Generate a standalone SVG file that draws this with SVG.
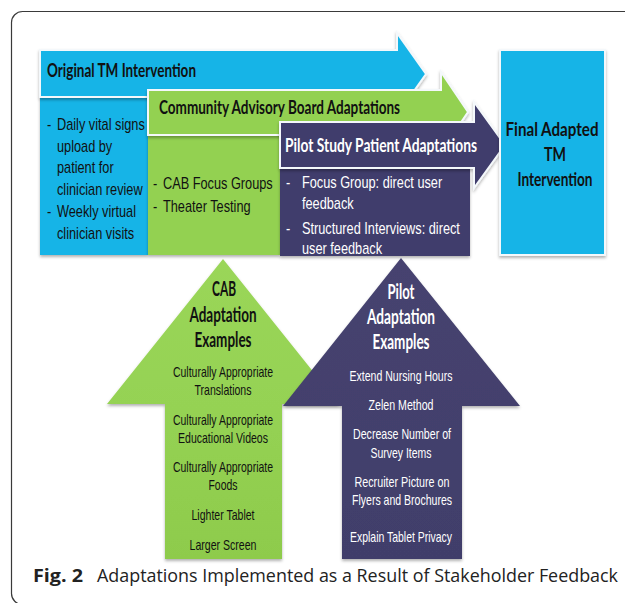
<svg xmlns="http://www.w3.org/2000/svg" width="625" height="603" viewBox="0 0 625 603">
  <defs>
    <style>
      .frame { fill: none; stroke: #3a3a3a; stroke-width: 1.2; }
      .blue { fill: #19b4e7; }
      .green { fill: #93d151; }
      .purple { fill: #403d6c; }
      .band { stroke: #f4f8fb; stroke-width: 2; stroke-linejoin: miter; }
      .hdr { font-family: Lato, "Open Sans", "Liberation Sans", sans-serif; font-weight: 700; font-size: 18.5px; }
      .ttl { font-family: Lato, "Open Sans", "Liberation Sans", sans-serif; font-weight: 700; font-size: 20px; text-anchor: middle; }
      .txt { font-family: "Liberation Sans", Arial, sans-serif; font-size: 17px; }
      .item { font-family: "Liberation Sans", Arial, sans-serif; font-size: 15px; text-anchor: middle; }
      .dark { fill: #111111; }
      .light { fill: #ffffff; }
      .cap { font-family: "Open Sans", "Noto Sans", "Liberation Sans", sans-serif; font-size: 18px; fill: #222222; }
    </style>
    <filter id="shade" x="-10%" y="-10%" width="120%" height="125%">
      <feDropShadow dx="0" dy="2" stdDeviation="1.6" flood-color="#000000" flood-opacity="0.3"/>
    </filter>
    <linearGradient id="greenUp" x1="0" y1="0" x2="0" y2="1">
      <stop offset="0" stop-color="#9ad659"/>
      <stop offset="0.5" stop-color="#95d253"/>
      <stop offset="1" stop-color="#8ecb4c"/>
    </linearGradient>
    <linearGradient id="purpleUp" x1="0" y1="0" x2="0" y2="1">
      <stop offset="0" stop-color="#46436f"/>
      <stop offset="1" stop-color="#413e6b"/>
    </linearGradient>
  </defs>

  <!-- outer frame, open on the right -->
  <rect class="frame" x="11.5" y="11.5" width="700" height="593" rx="11"/>

  <!-- original intervention -->
  <g id="original-tm">
    <rect class="blue" x="40" y="97" width="108" height="158" filter="url(#shade)"/>
    <polygon class="blue band" points="40,50 397,50 397,33 426,74 397,115 397,97 40,97" filter="url(#shade)"/>
    <text class="hdr dark" x="47" y="77" textLength="149" lengthAdjust="spacingAndGlyphs">Original TM Intervention</text>
    <!-- narrow body copy: plain text squeezed horizontally -->
    <g class="txt dark" transform="translate(47,0) scale(0.75,1)">
      <text x="0" y="130">-</text>
      <text x="13.3" y="130">Daily vital signs</text>
      <text x="13.3" y="152">upload by</text>
      <text x="13.3" y="173">patient for</text>
      <text x="13.3" y="195">clinician review</text>
      <text x="0" y="217">-</text>
      <text x="13.3" y="217">Weekly virtual</text>
      <text x="13.3" y="239">clinician visits</text>
    </g>
  </g>

  <!-- community advisory board -->
  <g id="cab-adaptations">
    <rect class="green" x="148" y="135" width="132" height="120" filter="url(#shade)"/>
    <polygon class="green band" points="148,90 441,90 441,72 468,112 441,152 441,135 148,135" filter="url(#shade)"/>
    <text class="hdr dark" x="159" y="114" textLength="241" lengthAdjust="spacingAndGlyphs">Community Advisory Board Adaptations</text>
    <g class="txt dark" transform="translate(153,0) scale(0.75,1)">
      <text x="0" y="189">-</text>
      <text x="13.3" y="189">CAB Focus Groups</text>
      <text x="0" y="212">-</text>
      <text x="13.3" y="212">Theater Testing</text>
    </g>
  </g>

  <!-- pilot study -->
  <g id="pilot-adaptations">
    <rect class="purple" x="280" y="168" width="190" height="88" filter="url(#shade)"/>
    <polygon class="purple band" points="280,122 474,122 474,102 505,145 474,188 474,168 280,168" filter="url(#shade)"/>
    <text class="hdr light" x="285" y="152" textLength="192" lengthAdjust="spacingAndGlyphs">Pilot  Study Patient Adaptations</text>
    <g class="txt light" transform="translate(286,0) scale(0.75,1)">
      <text x="0" y="188">-</text>
      <text x="21.3" y="188">Focus Group: direct user</text>
      <text x="21.3" y="209">feedback</text>
      <text x="0" y="234">-</text>
      <text x="21.3" y="234">Structured Interviews: direct</text>
      <text x="21.3" y="254">user feedback</text>
    </g>
  </g>

  <!-- final intervention -->
  <g id="final-tm">
    <rect class="blue band" x="500" y="50" width="105" height="205" filter="url(#shade)"/>
    <g class="ttl dark" style="font-size:18px">
      <text x="552" y="136" textLength="93" lengthAdjust="spacingAndGlyphs">Final Adapted</text>
      <text x="555" y="161" textLength="22" lengthAdjust="spacingAndGlyphs">TM</text>
      <text x="555" y="186" textLength="75" lengthAdjust="spacingAndGlyphs">Intervention</text>
    </g>
  </g>

  <!-- CAB examples -->
  <g id="cab-examples">
    <polygon fill="url(#greenUp)" points="223,259 339,404 282,404 282,559 165,559 165,404 107,404" filter="url(#shade)"/>
    <g class="ttl dark">
      <text x="224" y="296" textLength="24" lengthAdjust="spacingAndGlyphs">CAB</text>
      <text x="223" y="322" textLength="67" lengthAdjust="spacingAndGlyphs">Adaptation</text>
      <text x="223" y="347" textLength="57" lengthAdjust="spacingAndGlyphs">Examples</text>
    </g>
    <g class="item dark">
      <text x="223" y="377" textLength="100" lengthAdjust="spacingAndGlyphs">Culturally Appropriate</text>
      <text x="223" y="395" textLength="57" lengthAdjust="spacingAndGlyphs">Translations</text>
      <text x="223" y="425" textLength="100" lengthAdjust="spacingAndGlyphs">Culturally Appropriate</text>
      <text x="223" y="443" textLength="90" lengthAdjust="spacingAndGlyphs">Educational Videos</text>
      <text x="223" y="472" textLength="100" lengthAdjust="spacingAndGlyphs">Culturally Appropriate</text>
      <text x="223" y="490" textLength="29" lengthAdjust="spacingAndGlyphs">Foods</text>
      <text x="223" y="520" textLength="63" lengthAdjust="spacingAndGlyphs">Lighter Tablet</text>
      <text x="223" y="550" textLength="67" lengthAdjust="spacingAndGlyphs">Larger Screen</text>
    </g>
  </g>

  <!-- pilot examples -->
  <g id="pilot-examples">
    <polygon fill="url(#purpleUp)" points="401,258 520,406 462,406 462,559 342,559 342,406 283,406" filter="url(#shade)"/>
    <g class="ttl light">
      <text x="401" y="299" textLength="27" lengthAdjust="spacingAndGlyphs">Pilot</text>
      <text x="401" y="324" textLength="68" lengthAdjust="spacingAndGlyphs">Adaptation</text>
      <text x="401" y="349" textLength="57" lengthAdjust="spacingAndGlyphs">Examples</text>
    </g>
    <g class="item light">
      <text x="401" y="381" textLength="103" lengthAdjust="spacingAndGlyphs">Extend Nursing Hours</text>
      <text x="401" y="410" textLength="65" lengthAdjust="spacingAndGlyphs">Zelen Method</text>
      <text x="402" y="439" textLength="98" lengthAdjust="spacingAndGlyphs">Decrease Number of</text>
      <text x="401" y="458" textLength="61" lengthAdjust="spacingAndGlyphs">Survey Items</text>
      <text x="402" y="487" textLength="95" lengthAdjust="spacingAndGlyphs">Recruiter Picture on</text>
      <text x="402" y="505" textLength="100" lengthAdjust="spacingAndGlyphs">Flyers and Brochures</text>
      <text x="401" y="542" textLength="102" lengthAdjust="spacingAndGlyphs">Explain Tablet Privacy</text>
    </g>
  </g>

  <!-- caption -->
  <g id="caption">
    <text class="cap" x="33" y="582" style="font-weight:700" textLength="50" lengthAdjust="spacingAndGlyphs">Fig. 2</text>
    <text class="cap" x="97" y="582" textLength="521" lengthAdjust="spacingAndGlyphs">Adaptations Implemented as a Result of Stakeholder Feedback</text>
  </g>
</svg>
